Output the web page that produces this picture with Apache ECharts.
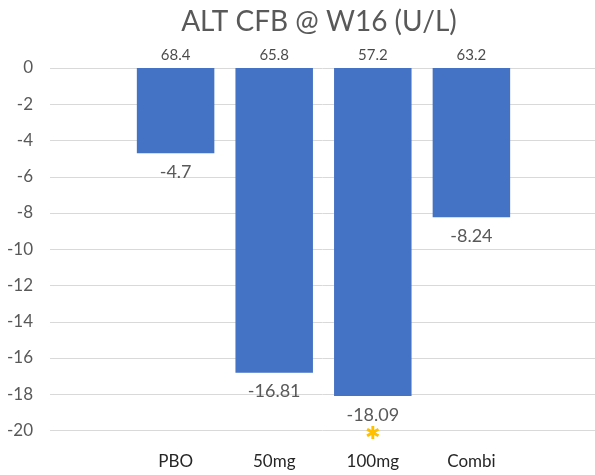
<!DOCTYPE html>
<html>
<head>
<meta charset="utf-8">
<script src="https://cdn.jsdelivr.net/npm/echarts@6/dist/echarts.min.js"></script>
<style>
  html, body { margin: 0; padding: 0; background: #ffffff; }
  #chart { width: 595px; height: 475px; }
</style>
</head>
<body>
<div id="chart"></div>
<script>
// Treatment groups and ALT change from baseline at week 16 (U/L)
const groups = ['PBO', '50mg', '100mg', 'Combi'];
const baselineALT = [68.4, 65.8, 57.2, 63.2];
const changeALT = [-4.7, -16.81, -18.09, -8.24];
const significance = ['', '', '*', ''];
const yTicks = { min: -20, max: 0, step: 2 };

const FONT = 'Lato, "Liberation Sans", sans-serif';
const chart = echarts.init(document.getElementById('chart'), null, { renderer: 'canvas' });

const gridTop = 68;
const gridBottom = 44.5;

chart.setOption({
  animation: false,
  backgroundColor: '#ffffff',
  title: {
    text: 'ALT CFB @ W16 (U/L)',
    left: 314,
    textAlign: 'center',
    top: 3,
    textStyle: { fontFamily: FONT, fontSize: 28, fontWeight: 'normal', color: '#595959' }
  },
  grid: [
    { left: 50, right: 0, top: gridTop, bottom: gridBottom },
    { left: 126.3, width: 394.4, top: gridTop, bottom: gridBottom }
  ],
  xAxis: [
    { gridIndex: 0, type: 'value', show: false, min: 0, max: 1 },
    {
      gridIndex: 1,
      type: 'category',
      data: groups,
      axisLine: { show: false },
      axisTick: { show: false },
      axisLabel: { margin: 23, fontFamily: FONT, fontSize: 17, color: '#262626' }
    }
  ],
  yAxis: [
    {
      gridIndex: 0,
      type: 'value',
      min: yTicks.min,
      max: yTicks.max,
      interval: yTicks.step,
      axisLine: { show: false },
      axisTick: { show: false },
      axisLabel: { margin: 17, fontFamily: FONT, fontSize: 17, color: '#595959' },
      splitLine: { lineStyle: { color: '#d9d9d9', width: 1 } }
    },
    {
      gridIndex: 1,
      type: 'value',
      min: yTicks.min,
      max: yTicks.max,
      interval: yTicks.step,
      show: false
    }
  ],
  series: [
    {
      type: 'bar',
      xAxisIndex: 1,
      yAxisIndex: 1,
      data: changeALT,
      barWidth: 77.5,
      itemStyle: { color: '#4472c4' },
      label: {
        show: true,
        position: 'bottom',
        distance: 9,
        lineHeight: 20,
        fontFamily: FONT,
        fontSize: 18,
        color: '#595959',
        formatter: p => {
          const mark = significance[p.dataIndex];
          return mark ? p.value + '\n{star|✱}' : String(p.value);
        },
        rich: {
          star: { color: '#ffc000', fontSize: 18, lineHeight: 18, fontFamily: '"DejaVu Sans", sans-serif' }
        }
      }
    },
    {
      type: 'scatter',
      xAxisIndex: 1,
      yAxisIndex: 1,
      symbolSize: 0,
      data: baselineALT.map(() => 0),
      label: {
        show: true,
        position: 'top',
        distance: 5,
        fontFamily: FONT,
        fontSize: 15,
        color: '#1a1a1a',
        formatter: p => String(baselineALT[p.dataIndex])
      }
    }
  ]
});
</script>
</body>
</html>
